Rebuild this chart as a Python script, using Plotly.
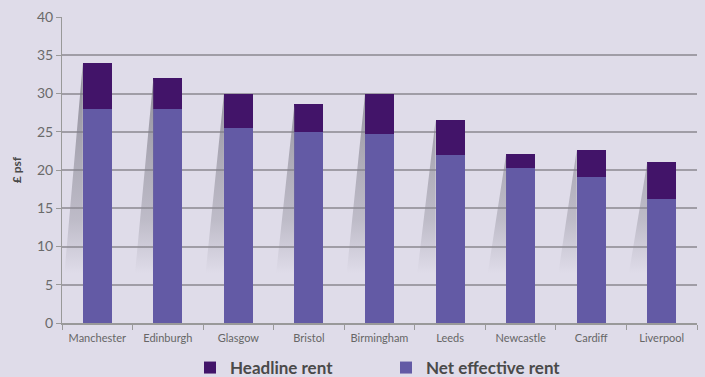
import plotly.graph_objects as go

cities = ["Manchester", "Edinburgh", "Glasgow", "Bristol", "Birmingham",
          "Leeds", "Newcastle", "Cardiff", "Liverpool"]
net_effective = [28.0, 28.0, 25.5, 25.0, 24.7, 22.0, 20.3, 19.1, 16.2]
headline_total = [34.0, 32.0, 30.0, 28.6, 30.0, 26.5, 22.1, 22.6, 21.0]
headline_extra = [round(h - n, 2) for h, n in zip(headline_total, net_effective)]

bg = "#DFDCE9"
bar_w = 0.41
fig = go.Figure()

# decorative drop shadows to the left of each bar (derived from the bar tops)
sx, sy = [], []
for i, top in enumerate(headline_total):
    left = i - bar_w / 2
    sx += [left, left - 0.26, left, left, None]
    sy += [top, 6.5, 6.5, top, None]
fig.add_trace(go.Scatter(
    x=sx, y=sy, xaxis="x2", mode="lines", line=dict(width=0),
    fill="toself",
    fillgradient=dict(type="vertical", start=6.5, stop=30,
                      colorscale=[[0, "rgba(140,138,150,0)"],
                                  [0.3, "rgba(140,138,150,0.4)"],
                                  [1, "rgba(120,118,130,0.7)"]]),
    hoverinfo="skip", showlegend=False))

fig.add_trace(go.Bar(x=cities, y=net_effective, name="Net effective rent",
                     marker=dict(color="#635AA5", line=dict(width=0)), width=bar_w))
fig.add_trace(go.Bar(x=cities, y=headline_extra, name="Headline rent",
                     marker=dict(color="#421469", line=dict(width=0)), width=bar_w))

fig.update_layout(
    barmode="stack",
    width=705, height=377,
    paper_bgcolor=bg, plot_bgcolor=bg,
    margin=dict(l=62, r=8, t=17, b=54, autoexpand=False),
    font=dict(family="Lato, DejaVu Sans, sans-serif", color="#666666"),
    showlegend=True,
    legend=dict(orientation="h", traceorder="reversed", x=(190 - 62) / 635, xanchor="left",
                yref="container", y=(377 - 368) / 377, yanchor="middle",
                entrywidth=151, entrywidthmode="pixels",
                font=dict(size=17, color="#4A4A4A", family="Lato, DejaVu Sans, sans-serif", weight="bold"),
                bgcolor="rgba(0,0,0,0)", itemwidth=30),
    xaxis=dict(showline=True, linecolor="#999999", linewidth=2, ticks="outside",
               tickson="boundaries", ticklen=5, tickcolor="#999999",
               ticklabelstandoff=4,
               tickfont=dict(size=11, color="#666666"), showgrid=False),
    xaxis2=dict(overlaying="x", range=[-0.5, 8.5], visible=False),
    yaxis=dict(range=[0, 40], dtick=5, showline=True, linecolor="#999999", linewidth=1,
               ticks="outside", ticklen=5, tickcolor="#999999",
               gridcolor="#A09DA6", gridwidth=1.5,
               tickfont=dict(size=14, color="#6A6A6A"),
               title=dict(text="<b>£ psf</b>", font=dict(size=12, color="#4A4A4A"), standoff=12),
               zeroline=False),
)
fig.write_html("out.html")
